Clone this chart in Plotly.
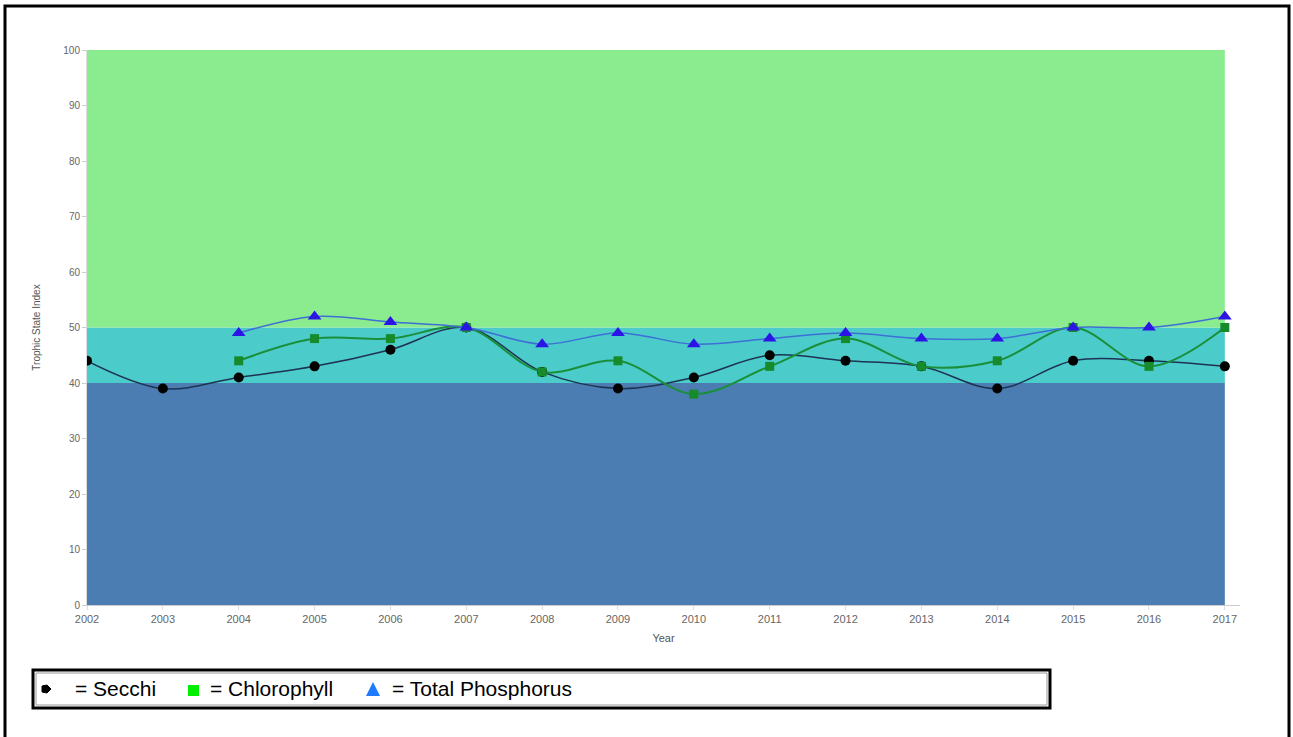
import plotly.graph_objects as go

years = list(range(2002, 2018))
secchi = [44, 39, 41, 43, 46, 50, 42, 39, 41, 45, 44, 43, 39, 44, 44, 43]
chl_years = list(range(2004, 2018))
chlorophyll = [44, 48, 48, 50, 42, 44, 38, 43, 48, 43, 44, 50, 43, 50]
tp_years = list(range(2004, 2018))
total_p = [49, 52, 51, 50, 47, 49, 47, 48, 49, 48, 48, 50, 50, 52]

bands = [(0, 40, "#4b7db2"), (40, 50, "#4ccbcb"), (50, 100, "#8beb8f")]

W, H = 1293, 737
L, R, T, B = 87, 1240, 50, 605


def px(x):
    return (x - L) / (R - L)


def py(y):
    return (B - y) / (B - T)


fig = go.Figure()
fig.add_trace(go.Scatter(x=years, y=secchi, mode="lines+markers", name="Secchi",
                         line=dict(color="#1d3352", width=1.5, shape="spline", smoothing=1),
                         marker=dict(color="#000000", size=10, symbol="circle")))
fig.add_trace(go.Scatter(x=chl_years, y=chlorophyll, mode="lines+markers", name="Chlorophyll",
                         line=dict(color="#1a8f3a", width=2, shape="spline", smoothing=1),
                         marker=dict(color="#178a2c", size=9, symbol="square")))
fig.add_trace(go.Scatter(x=tp_years, y=total_p, mode="lines+markers", name="Total Phosphorus",
                         line=dict(color="#3d6fd6", width=1.5, shape="spline", smoothing=1),
                         marker=dict(color="#2d14e6", size=12, symbol="triangle-up")))

shapes = []
for y0, y1, c in bands:
    shapes.append(dict(type="rect", xref="x", yref="y", x0=years[0], x1=years[-1], y0=y0, y1=y1,
                       fillcolor=c, line=dict(width=0), layer="below"))

# outer frame
shapes.append(dict(type="path", xref="paper", yref="paper",
                   path=f"M {px(5)} {py(745)} L {px(5)} {py(6)} L {px(1289)} {py(6)} L {px(1289)} {py(745)}",
                   line=dict(color="black", width=3)))
# legend box
shapes.append(dict(type="rect", xref="paper", yref="paper", x0=px(33), x1=px(1050), y0=py(708), y1=py(670),
                   line=dict(color="black", width=3), fillcolor="white"))
shapes.append(dict(type="rect", xref="paper", yref="paper", x0=px(36), x1=px(1047), y0=py(705), y1=py(673),
                   line=dict(color="#999999", width=1)))
# legend symbols
shapes.append(dict(type="path", xref="paper", yref="paper",
                   path=(f"M {px(42)} {py(686)} L {px(47)} {py(685)} L {px(51)} {py(689)} "
                         f"L {px(47)} {py(693)} L {px(42)} {py(692)} Z"),
                   fillcolor="black", line=dict(color="black", width=1)))
shapes.append(dict(type="rect", xref="paper", yref="paper", x0=px(188), x1=px(199), y0=py(696), y1=py(685),
                   fillcolor="#00ee00", line=dict(width=0)))
shapes.append(dict(type="path", xref="paper", yref="paper",
                   path=f"M {px(366)} {py(696)} L {px(373)} {py(682)} L {px(380)} {py(696)} Z",
                   fillcolor="#1e7bff", line=dict(width=0)))

annotations = []
for xpos, txt in [(73, "= Secchi"), (208, "= Chlorophyll"), (390, "= Total Phosphorus")]:
    annotations.append(dict(xref="paper", yref="paper", x=px(xpos), y=py(688), text=txt,
                            showarrow=False, xanchor="left", yanchor="middle",
                            font=dict(family="Liberation Sans, Arial", size=21, color="#000000")))

fig.update_layout(
    width=W, height=H,
    margin=dict(l=L, r=W - R, t=T, b=H - B),
    paper_bgcolor="white", plot_bgcolor="white",
    showlegend=False,
    shapes=shapes, annotations=annotations,
    font=dict(family="Liberation Sans, Arial", size=10, color="#666666"),
    xaxis=dict(range=[2002, 2017.2], tickmode="array", tickvals=years, ticktext=[str(y) for y in years],
               showgrid=False, zeroline=False, showline=True, linecolor="#cccccc",
               ticks="outside", ticklen=4, tickcolor="#dddddd",
               title=dict(text="Year", font=dict(size=11, color="#555555"), standoff=10),
               tickfont=dict(size=11, color="#666666")),
    yaxis=dict(range=[0, 100], tickmode="array", tickvals=list(range(0, 101, 10)),
               showgrid=False, zeroline=False, showline=True, linecolor="#dddddd",
               ticks="outside", ticklen=4, tickcolor="#cccccc",
               title=dict(text="Trophic State Index", font=dict(size=10, color="#555555"), standoff=20),
               tickfont=dict(size=10, color="#666666")),
)

fig.write_html("out.html", config={"displayModeBar": False},
               post_script="document.body.style.margin='0px';")
